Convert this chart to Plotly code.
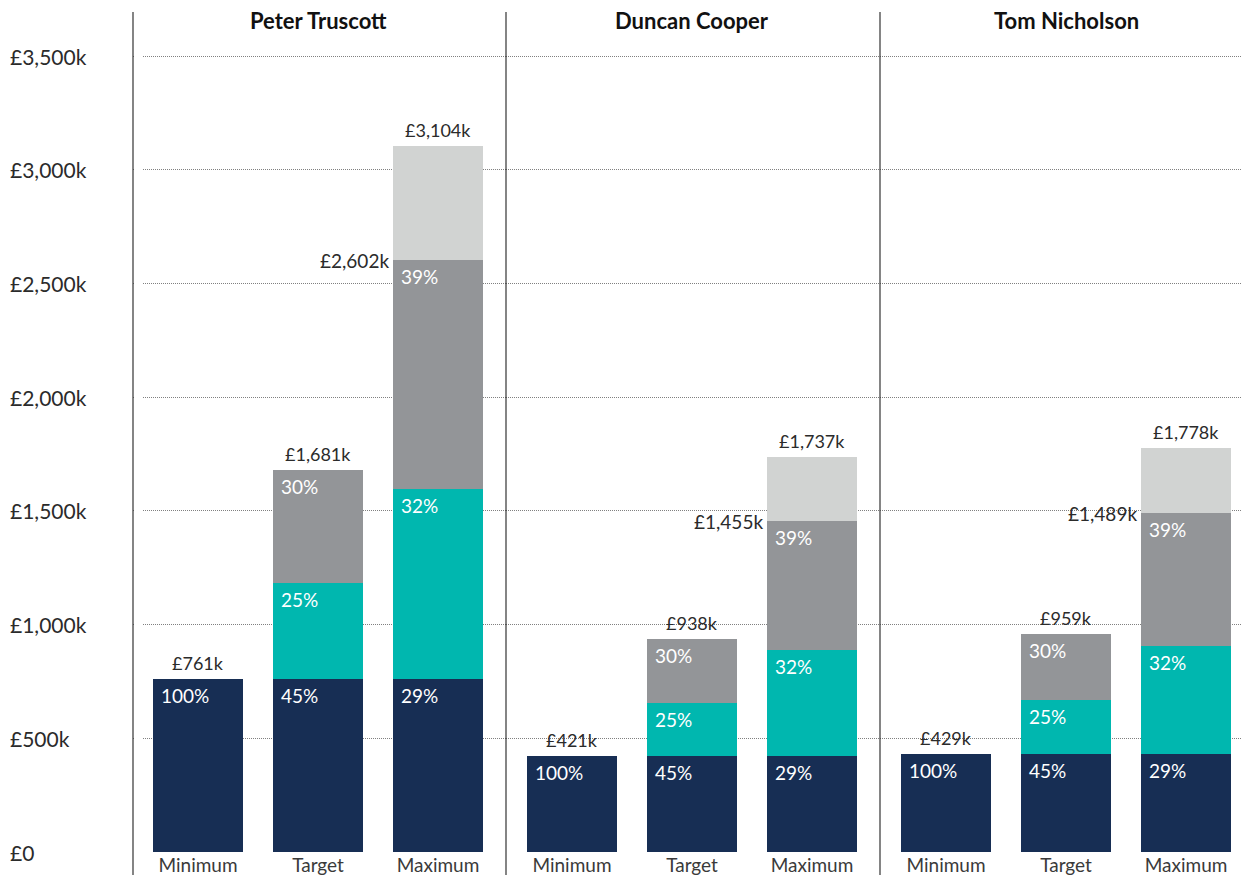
import plotly.graph_objects as go
from plotly.subplots import make_subplots

people = ["Peter Truscott", "Duncan Cooper", "Tom Nicholson"]
levels = ["Minimum", "Target", "Maximum"]

# £k per segment, one list per person: [Minimum, Target, Maximum]
fixed = {"Peter Truscott": [761, 761, 761], "Duncan Cooper": [421, 421, 421], "Tom Nicholson": [429, 429, 429]}
annual_bonus = {"Peter Truscott": [0, 420, 833], "Duncan Cooper": [0, 234, 466], "Tom Nicholson": [0, 240, 476]}
ltip = {"Peter Truscott": [0, 500, 1008], "Duncan Cooper": [0, 283, 568], "Tom Nicholson": [0, 290, 584]}
share_growth = {"Peter Truscott": [0, 0, 502], "Duncan Cooper": [0, 0, 282], "Tom Nicholson": [0, 0, 289]}

y_ticks = [0, 500, 1000, 1500, 2000, 2500, 3000, 3500]

NAVY = "#172e54"
TEAL = "#00b7af"
GREY = "#939598"
LIGHT = "#d1d3d2"
TEXT = "#2b2b2b"
FONT = "Lato, sans-serif"

# the page body adds an 8px margin, so the figure is laid out 8px smaller
W, H = 1242, 870
edges = [125, 498, 872, 1242]  # panel dividers, px
x_ranges = [[-0.542, 2.567], [-0.55, 2.567], [-0.55, 2.533]]  # 120px per bar slot
top_m, bot_m = 4, 26
px_per_k = 796 / 3500

fig = make_subplots(rows=1, cols=3, shared_yaxes=True, horizontal_spacing=0)

annotations = []
for c, name in enumerate(people, start=1):
    segs = [(fixed[name], NAVY), (annual_bonus[name], TEAL), (ltip[name], GREY), (share_growth[name], LIGHT)]
    for vals, col in segs:
        fig.add_trace(go.Bar(x=levels, y=vals, marker=dict(color=col, line=dict(width=0)),
                             showlegend=False, hoverinfo="skip"), row=1, col=c)

    xr = "x" if c == 1 else f"x{c}"
    yr = "y" if c == 1 else f"y{c}"
    for j, lev in enumerate(levels):
        core = fixed[name][j] + annual_bonus[name][j] + ltip[name][j]
        total = core + share_growth[name][j]
        cum = 0
        for vals in (fixed[name], annual_bonus[name], ltip[name]):
            v = vals[j]
            if v <= 0:
                continue
            cum += v
            annotations.append(dict(x=lev, y=cum, xref=xr, yref=yr, text=f"{round(100 * v / core)}%",
                                    showarrow=False, xanchor="left", yanchor="top", xshift=-39, yshift=-3,
                                    font=dict(size=19, color="white", family=FONT)))
        annotations.append(dict(x=lev, y=total, xref=xr, yref=yr, text=f"£{total:,}k",
                                showarrow=False, xanchor="center", yanchor="bottom", yshift=3,
                                font=dict(size=18, color=TEXT, family=FONT)))
        if share_growth[name][j] > 0:
            annotations.append(dict(x=lev, y=core, xref=xr, yref=yr, text=f"£{core:,}k",
                                    showarrow=False, xanchor="right", yanchor="middle", xshift=-47,
                                    font=dict(size=19, color=TEXT, family=FONT)))
    annotations.append(dict(x="Target", y=1, xref=xr, yref="paper", text=f"<b>{name}</b>",
                            showarrow=False, xanchor="center", yanchor="middle", yshift=-8,
                            font=dict(size=22, color="#111", family=FONT)))

for v in y_ticks:
    annotations.append(dict(x=0, y=v, xref="paper", yref="y", text=f"£{v:,}k" if v else "£0",
                            showarrow=False, xanchor="left", yanchor="middle",
                            font=dict(size=21, color=TEXT, family=FONT)))

plot_h = H - top_m - bot_m
y_top = plot_h / px_per_k

shapes = [dict(type="rect", xref="paper", yref="paper", x0=126 / W, x1=135 / W, y0=0, y1=1,
               fillcolor="white", line=dict(width=0), layer="above")]
for e in edges[:3]:
    shapes.append(dict(type="line", xref="paper", yref="paper", x0=e / W, x1=e / W,
                       y0=-23 / plot_h, y1=1, line=dict(color="#333", width=1.2)))

for c in range(1, 4):
    fig.update_xaxes(domain=[edges[c - 1] / W, edges[c] / W], range=x_ranges[c - 1], showgrid=False,
                     zeroline=False, showline=False, ticks="",
                     tickfont=dict(size=19, color="#3a3a3a", family=FONT), row=1, col=c)
    fig.update_yaxes(range=[0, y_top], tickvals=y_ticks[1:], showticklabels=False, showgrid=True,
                     gridcolor="#808080", gridwidth=1, griddash="1px,1px", zeroline=False, showline=False,
                     row=1, col=c)

fig.update_layout(
    width=W, height=H, barmode="stack", bargap=0.25,
    margin=dict(l=0, r=0, t=top_m, b=bot_m),
    paper_bgcolor="white", plot_bgcolor="white",
    font=dict(family=FONT, color=TEXT),
    annotations=annotations, shapes=shapes, showlegend=False,
)

fig.write_html("out.html")
